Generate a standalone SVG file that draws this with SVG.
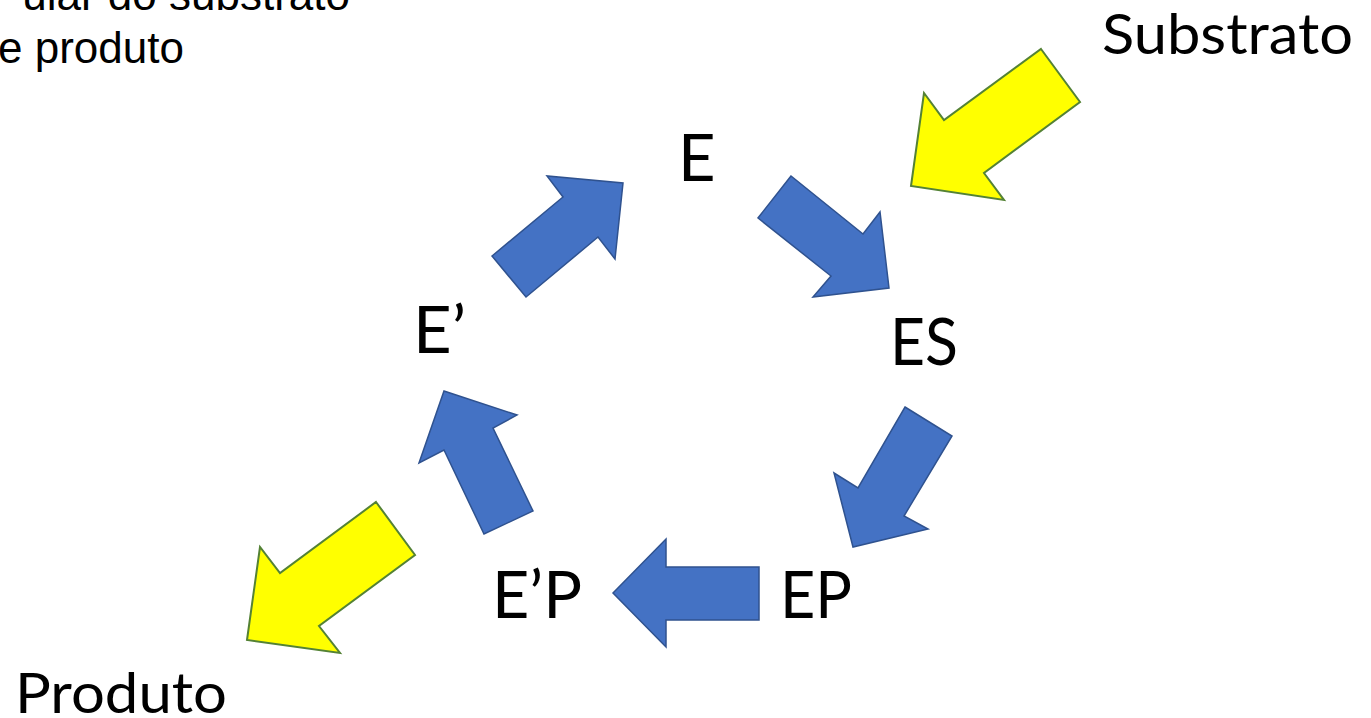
<svg xmlns="http://www.w3.org/2000/svg" width="1371" height="718" viewBox="0 0 1371 718">
<style>
.blue{fill:#4472C4;stroke:#2F528F;stroke-width:1.5;stroke-linejoin:miter}
.yellow{fill:#FFFF00;stroke:#548235;stroke-width:2;stroke-linejoin:miter}
.lbl{font-family:Lato,"Open Sans","Noto Sans",sans-serif;font-size:65px;fill:#000}
.side{font-family:Lato,"Open Sans","Noto Sans",sans-serif;font-size:57px;fill:#000}
.note{font-family:"Liberation Sans",Arial,sans-serif;font-size:44px;fill:#000}
</style>
<rect width="1371" height="718" fill="#fff"/>
<g id="note">
<text class="note" x="350" y="10" text-anchor="end">ular do substrato</text>
<text class="note" x="-2" y="63">e produto</text>
</g>
<g id="connectors">
<polygon class="blue" points="492,256 526,297 598,237 615,259 623,183 547,176 563,197"/>
<polygon class="blue" points="791,176 758,218 831,276 813,297 889,288 880,212 863,234"/>
<polygon class="blue" points="905,407 952,436 904,516 928,529 853,547 834,473 858,488"/>
<polygon class="blue" points="613,593 666,539 666,567 759,567 759,620 666,620 666,647"/>
<polygon class="blue" points="444,391 517,415 493,428 533,511 484,534 444,450 419,463"/>
<polygon class="yellow" points="1041,49 1080,102 984,173 1004,200 911,186 924,93 944,120"/>
<polygon class="yellow" points="376,502 415,555 319,626 340,653 247,640 260,547 280,573"/>
</g>
<g id="node-E"><text class="lbl" x="678" y="181">E</text></g>
<g id="node-ES"><text class="lbl" x="890" y="365" textLength="68" lengthAdjust="spacingAndGlyphs">ES</text></g>
<g id="node-EP"><text class="lbl" x="780" y="618" textLength="72" lengthAdjust="spacingAndGlyphs">EP</text></g>
<g id="node-E1P"><text class="lbl" x="492" y="618" textLength="90" lengthAdjust="spacingAndGlyphs">E’P</text></g>
<g id="node-E1"><text class="lbl" x="413" y="353" textLength="53" lengthAdjust="spacingAndGlyphs">E’</text></g>
<g id="node-Substrato"><text class="side" x="1102" y="54" textLength="251" lengthAdjust="spacingAndGlyphs">Substrato</text></g>
<g id="node-Produto"><text class="side" x="15" y="713" textLength="212" lengthAdjust="spacingAndGlyphs">Produto</text></g>
</svg>
